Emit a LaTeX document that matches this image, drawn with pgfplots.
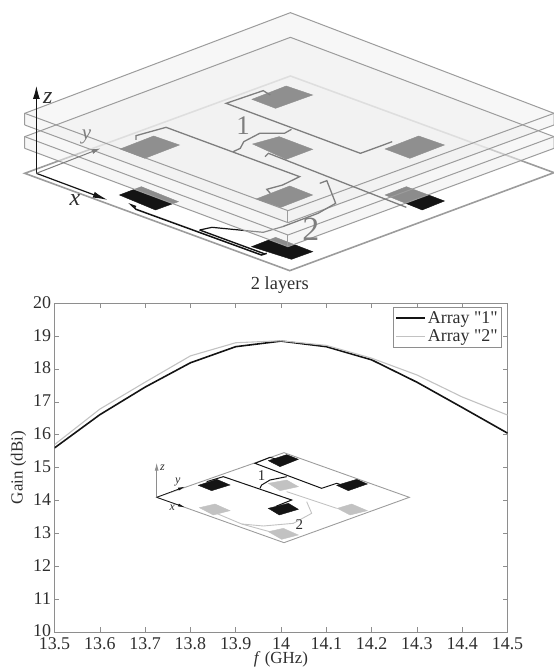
\documentclass[border=0pt]{standalone}
\usepackage{fontspec}
\setmainfont{Liberation Serif}
\newfontfamily\plainq{Liberation Serif}
\usepackage{pgfplots}
\usetikzlibrary{arrows.meta}
\pgfplotsset{compat=1.18}
\definecolor{txt}{HTML}{2E2E2E}
\definecolor{axc}{HTML}{8E8E8E}
\definecolor{edge}{HTML}{9C9C9C}
\definecolor{pat}{HTML}{8F8F8F}
\definecolor{feed}{HTML}{7E7E7E}
\definecolor{blk}{HTML}{141414}
\definecolor{lgt}{HTML}{C2C2C2}
\definecolor{sheet}{HTML}{F0F0F0}
\newcommand{\fs}[1]{\fontsize{#1}{#1}\selectfont}
\pgfplotsset{diagram/.style={hide axis,scale only axis,clip=false,y dir=reverse,axis on top=false}}
\begin{document}
\begin{tikzpicture}[x=1bp,y=1bp]
\useasboundingbox (0,0) rectangle (554,668);
% ---------- main chart
\begin{axis}[
  at={(54.5bp,36bp)},anchor=south west,scale only axis,width=453bp,height=328.7bp,
  xmin=13.5,xmax=14.5,ymin=10,ymax=20,
  xtick={13.5,13.6,13.7,13.8,13.9,14,14.1,14.2,14.3,14.4,14.5},
  xticklabels={13.5,13.6,13.7,13.8,13.9,14,14.1,14.2,14.3,14.4,14.5},
  ytick={10,11,12,13,14,15,16,17,18,19,20},
  /pgf/number format/assume math mode=true,
  tick align=inside,tick pos=both,major tick length=4.5bp,
  axis line style={draw=axc,line width=0.9pt},
  tick style={draw=axc,line width=0.6pt},
  ticklabel style={font=\fs{18},text=txt},
  xticklabel style={yshift=-4bp,inner sep=1pt},
  yticklabel style={xshift=0bp,yshift=1bp},
  xlabel={\textit{f} (GHz)},ylabel={Gain (dBi)},
  xlabel style={font=\fs{17},text=txt,inner sep=0pt,at={(axis description cs:0.5,0)},anchor=center,yshift=-27.5bp},
  ylabel style={font=\fs{17},text=txt,at={(axis description cs:0,0.5)},anchor=center,yshift=36bp},
  legend style={at={(0.988,0.989)},anchor=north east,draw=axc,line width=0.7pt,font=\fs{18},text=txt,
    legend cell align=left,inner sep=2pt,row sep=1pt,fill=white},
  legend image code/.code={\draw[#1] (0bp,0bp) -- (29bp,0bp);},
]
\addplot[blk,line width=1.6pt] coordinates {(13.5,15.6)(13.6,16.61)(13.7,17.45)(13.8,18.19)(13.9,18.68)(14,18.85)(14.1,18.68)(14.2,18.28)(14.3,17.6)(14.4,16.83)(14.5,16.05)};
\addlegendentry{{\plainq Array "1"}}
\addplot[lgt,line width=1.1pt] coordinates {(13.5,15.7)(13.6,16.78)(13.7,17.6)(13.8,18.4)(13.9,18.8)(14,18.86)(14.1,18.72)(14.2,18.33)(14.3,17.82)(14.4,17.15)(14.5,16.6)};
\addlegendentry{{\plainq Array "2"}}
\end{axis}
% ---------- top 3D diagram
\begin{axis}[diagram,at={(0bp,368bp)},anchor=south west,width=554bp,height=300bp,xmin=0,xmax=1568,ymin=0,ymax=900]
% ground plate
\addplot[edge,line width=1.6pt,fill=white] coordinates {(70,520)(822,228)(1568,518)(820,812)} -- cycle;
% lower patches
\addplot[blk,fill=blk] coordinates {(338,585)(400,560)(505,605)(440,630)} -- cycle;
\addplot[blk,fill=blk] coordinates {(1090,585)(1150,560)(1258,603)(1195,630)} -- cycle;
\addplot[blk,fill=blk] coordinates {(712,740)(780,712)(885,755)(825,778)} -- cycle;
% lower feed
\addplot[blk,line width=1.5pt] coordinates {(385,620)(372,615)(385,628)(740,765)(755,760)};
\addplot[blk,line width=1.2pt] coordinates {(565,690)(600,682)(745,697)(800,680)};
\addplot[blk,line width=1.4pt] coordinates {(565,690)(750,762)};
% sheets
\addplot[draw=none,fill=sheet,fill opacity=0.55] coordinates {(70,410)(822,112)(1568,410)(1568,445)(815,740)(70,445)} -- cycle;
\addplot[draw=none,fill=sheet,fill opacity=0.55] coordinates {(70,340)(822,38)(1568,340)(1568,375)(815,668)(70,375)} -- cycle;
\addplot[edge,line width=1pt] coordinates {(70,445)(70,410)(822,112)(1568,410)(1568,445)(815,740)(70,445)};
\addplot[edge,line width=1pt] coordinates {(70,410)(815,705)(1568,410)};
\addplot[edge,line width=1pt] coordinates {(815,705)(815,740)};
\addplot[edge,line width=1pt] coordinates {(70,375)(70,340)(822,38)(1568,340)(1568,375)(815,668)(70,375)};
\addplot[edge,line width=1pt] coordinates {(70,340)(815,632)(1568,340)};
\addplot[edge,line width=1pt] coordinates {(815,632)(815,668)};
% upper patches
\addplot[pat,fill=pat] coordinates {(713,298)(810,258)(885,285)(780,325)} -- cycle;
\addplot[pat,fill=pat] coordinates {(715,432)(790,410)(885,448)(810,478)} -- cycle;
\addplot[pat,fill=pat] coordinates {(340,447)(435,408)(508,435)(410,475)} -- cycle;
\addplot[pat,fill=pat] coordinates {(1090,447)(1185,408)(1258,435)(1160,475)} -- cycle;
\addplot[pat,fill=pat] coordinates {(725,597)(820,558)(885,585)(795,622)} -- cycle;
% upper feed
\addplot[feed,line width=1.3pt] coordinates {(385,420)(385,407)(470,382)(848,530)(800,555)(755,568)(765,580)};
\addplot[feed,line width=1.3pt] coordinates {(765,285)(745,272)(640,310)(1020,460)(1085,435)(1110,425)};
\addplot[feed,line width=1.3pt] coordinates {(660,455)(680,445)(690,425)(735,400)(805,400)(825,388)};
\addplot[feed,line width=1.3pt] coordinates {(750,470)(760,460)(1000,560)(1150,622)};
\addplot[feed,line width=1.3pt] coordinates {(905,550)(925,542)(950,610)(900,640)(800,680)};
% coordinate axes
\addplot[blk,line width=1pt,-{Latex[length=13bp,width=7bp]}] coordinates {(103,520)(103,258)};
\addplot[blk,line width=1.2pt,-{Latex[length=15bp,width=6bp]}] coordinates {(103,520)(305,600)};
\addplot[feed,line width=1pt,-{Latex[length=9bp,width=5bp]}] coordinates {(103,520)(285,445)};
\node[text=txt,font=\fs{24}\itshape] at (axis cs:135,293) {z};
\node[text=txt,font=\fs{24}\itshape] at (axis cs:212,600) {x};
\node[text=feed,font=\fs{21}\itshape] at (axis cs:245,412) {y};
\node[text=feed,font=\fs{27}] at (axis cs:688,378) {1};
\node[text=feed,font=\fs{34}] at (axis cs:880,688) {2};
\node[text=txt,font=\fs{18.5}] at (axis cs:792,855) {2 layers};
\end{axis}
% ---------- inset
\begin{axis}[diagram,at={(130bp,108bp)},anchor=south west,width=280bp,height=140bp,xmin=0,xmax=840,ymin=0,ymax=420]
\addplot[edge,line width=0.9pt] coordinates {(80,232)(462,98)(838,232)(462,368)} -- cycle;
\addplot[lgt,fill=lgt] coordinates {(415,190)(470,180)(505,200)(450,212)} -- cycle;
\addplot[lgt,fill=lgt] coordinates {(208,263)(255,252)(300,272)(250,285)} -- cycle;
\addplot[lgt,fill=lgt] coordinates {(622,265)(665,252)(712,272)(660,285)} -- cycle;
\addplot[lgt,fill=lgt] coordinates {(415,335)(460,325)(505,345)(455,358)} -- cycle;
\addplot[lgt,line width=0.9pt] coordinates {(470,215)(620,265)};
\addplot[lgt,line width=0.9pt] coordinates {(530,245)(545,280)(490,310)(400,318)(335,312)(240,272)};
\addplot[lgt,line width=0.9pt] coordinates {(335,312)(455,345)};
\addplot[blk,fill=blk] coordinates {(205,196)(260,178)(300,195)(245,212)} -- cycle;
\addplot[blk,fill=blk] coordinates {(415,122)(470,104)(505,118)(450,140)} -- cycle;
\addplot[blk,fill=blk] coordinates {(620,196)(680,178)(712,192)(655,212)} -- cycle;
\addplot[blk,fill=blk] coordinates {(415,265)(475,250)(505,268)(448,285)} -- cycle;
\addplot[blk,line width=1pt] coordinates {(230,185)(280,170)(485,240)(440,258)(445,264)};
\addplot[blk,line width=1pt] coordinates {(390,205)(395,195)(420,180)(470,170)};
\addplot[blk,line width=1pt] coordinates {(440,118)(420,112)(375,130)(575,205)(620,190)(632,194)};
\addplot[axc,line width=0.9pt,-{Latex[length=8bp,width=4bp]}] coordinates {(80,232)(80,128)};
\addplot[blk,line width=0.7pt,-{Latex[length=7bp,width=3bp]}] coordinates {(80,232)(165,262)};
\addplot[blk,line width=0.7pt,-{Latex[length=7bp,width=3bp]}] coordinates {(80,232)(165,200)};
\node[text=txt,font=\fs{12}\itshape] at (axis cs:97,142) {z};
\node[text=txt,font=\fs{12}\itshape] at (axis cs:143,187) {y};
\node[text=txt,font=\fs{12}\itshape] at (axis cs:127,263) {x};
\node[text=txt,font=\fs{15}] at (axis cs:395,168) {1};
\node[text=txt,font=\fs{15}] at (axis cs:508,313) {2};
\end{axis}
\end{tikzpicture}
\end{document}
